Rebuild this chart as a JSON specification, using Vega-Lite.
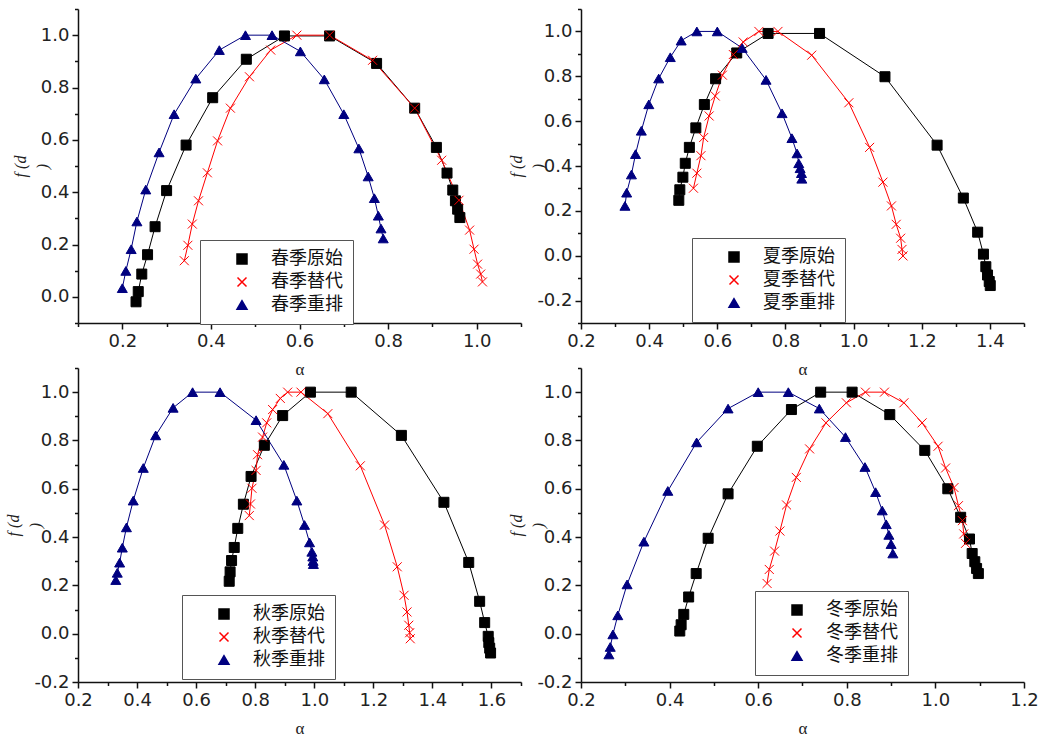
{
  "$schema": "https://vega.github.io/schema/vega-lite/v6.json",
  "background": "white",
  "padding": {"left": 5, "top": 8, "right": 5, "bottom": 5},
  "config": {
    "view": {"stroke": null},
    "axis": {
      "grid": false,
      "domainColor": "#111111",
      "domainWidth": 1.5,
      "tickColor": "#111111",
      "tickWidth": 1.5,
      "labelFont": "DejaVu Sans",
      "labelColor": "#222222",
      "labelOverlap": false,
      "labelFlush": false,
      "labelPadding": 3,
      "titleColor": "#222222"
    },
    "legend": {
      "labelFont": "Noto Sans CJK SC",
      "labelFontSize": 18,
      "labelColor": "#111111",
      "strokeColor": "#555555",
      "fillColor": "white",
      "padding": 10,
      "rowPadding": 5,
      "symbolSize": 100,
      "symbolOffset": 23,
      "labelOffset": 20
    }
  },
  "resolve": {"scale": {"color": "independent", "stroke": "independent", "shape": "independent"}, "legend": {"color": "independent", "stroke": "independent", "shape": "independent"}},
  "datasets": {
    "spring": [
      {"series": "春季原始", "alpha": 0.231, "f": -0.019},
      {"series": "春季原始", "alpha": 0.236, "f": 0.020},
      {"series": "春季原始", "alpha": 0.244, "f": 0.087},
      {"series": "春季原始", "alpha": 0.257, "f": 0.161},
      {"series": "春季原始", "alpha": 0.274, "f": 0.268},
      {"series": "春季原始", "alpha": 0.300, "f": 0.406},
      {"series": "春季原始", "alpha": 0.344, "f": 0.580},
      {"series": "春季原始", "alpha": 0.404, "f": 0.761},
      {"series": "春季原始", "alpha": 0.480, "f": 0.908},
      {"series": "春季原始", "alpha": 0.566, "f": 0.997},
      {"series": "春季原始", "alpha": 0.668, "f": 0.997},
      {"series": "春季原始", "alpha": 0.774, "f": 0.892},
      {"series": "春季原始", "alpha": 0.860, "f": 0.721},
      {"series": "春季原始", "alpha": 0.909, "f": 0.571},
      {"series": "春季原始", "alpha": 0.933, "f": 0.473},
      {"series": "春季原始", "alpha": 0.946, "f": 0.408},
      {"series": "春季原始", "alpha": 0.952, "f": 0.367},
      {"series": "春季原始", "alpha": 0.957, "f": 0.335},
      {"series": "春季原始", "alpha": 0.962, "f": 0.303},
      {"series": "春季替代", "alpha": 0.340, "f": 0.138},
      {"series": "春季替代", "alpha": 0.348, "f": 0.197},
      {"series": "春季替代", "alpha": 0.358, "f": 0.278},
      {"series": "春季替代", "alpha": 0.372, "f": 0.367},
      {"series": "春季替代", "alpha": 0.392, "f": 0.474},
      {"series": "春季替代", "alpha": 0.415, "f": 0.596},
      {"series": "春季替代", "alpha": 0.444, "f": 0.721},
      {"series": "春季替代", "alpha": 0.487, "f": 0.841},
      {"series": "春季替代", "alpha": 0.535, "f": 0.943},
      {"series": "春季替代", "alpha": 0.594, "f": 1.000},
      {"series": "春季替代", "alpha": 0.668, "f": 1.000},
      {"series": "春季替代", "alpha": 0.765, "f": 0.904},
      {"series": "春季替代", "alpha": 0.860, "f": 0.721},
      {"series": "春季替代", "alpha": 0.921, "f": 0.522},
      {"series": "春季替代", "alpha": 0.960, "f": 0.369},
      {"series": "春季替代", "alpha": 0.984, "f": 0.255},
      {"series": "春季替代", "alpha": 0.994, "f": 0.182},
      {"series": "春季替代", "alpha": 1.002, "f": 0.125},
      {"series": "春季替代", "alpha": 1.009, "f": 0.087},
      {"series": "春季替代", "alpha": 1.013, "f": 0.057},
      {"series": "春季重排", "alpha": 0.200, "f": 0.033},
      {"series": "春季重排", "alpha": 0.208, "f": 0.099},
      {"series": "春季重排", "alpha": 0.220, "f": 0.182},
      {"series": "春季重排", "alpha": 0.233, "f": 0.288},
      {"series": "春季重排", "alpha": 0.253, "f": 0.410},
      {"series": "春季重排", "alpha": 0.283, "f": 0.552},
      {"series": "春季重排", "alpha": 0.317, "f": 0.698},
      {"series": "春季重排", "alpha": 0.366, "f": 0.834},
      {"series": "春季重排", "alpha": 0.419, "f": 0.943},
      {"series": "春季重排", "alpha": 0.478, "f": 1.000},
      {"series": "春季重排", "alpha": 0.538, "f": 1.000},
      {"series": "春季重排", "alpha": 0.602, "f": 0.938},
      {"series": "春季重排", "alpha": 0.656, "f": 0.831},
      {"series": "春季重排", "alpha": 0.700, "f": 0.698},
      {"series": "春季重排", "alpha": 0.734, "f": 0.567},
      {"series": "春季重排", "alpha": 0.755, "f": 0.460},
      {"series": "春季重排", "alpha": 0.769, "f": 0.377},
      {"series": "春季重排", "alpha": 0.778, "f": 0.310},
      {"series": "春季重排", "alpha": 0.784, "f": 0.261},
      {"series": "春季重排", "alpha": 0.789, "f": 0.223}
    ],
    "summer": [
      {"series": "夏季原始", "alpha": 0.487, "f": 0.247},
      {"series": "夏季原始", "alpha": 0.490, "f": 0.294},
      {"series": "夏季原始", "alpha": 0.499, "f": 0.350},
      {"series": "夏季原始", "alpha": 0.506, "f": 0.412},
      {"series": "夏季原始", "alpha": 0.518, "f": 0.483},
      {"series": "夏季原始", "alpha": 0.537, "f": 0.570},
      {"series": "夏季原始", "alpha": 0.562, "f": 0.674},
      {"series": "夏季原始", "alpha": 0.595, "f": 0.789},
      {"series": "夏季原始", "alpha": 0.657, "f": 0.904},
      {"series": "夏季原始", "alpha": 0.749, "f": 0.991},
      {"series": "夏季原始", "alpha": 0.900, "f": 0.991},
      {"series": "夏季原始", "alpha": 1.092, "f": 0.798},
      {"series": "夏季原始", "alpha": 1.245, "f": 0.493},
      {"series": "夏季原始", "alpha": 1.322, "f": 0.257},
      {"series": "夏季原始", "alpha": 1.364, "f": 0.105},
      {"series": "夏季原始", "alpha": 1.381, "f": 0.007},
      {"series": "夏季原始", "alpha": 1.388, "f": -0.049},
      {"series": "夏季原始", "alpha": 1.393, "f": -0.086},
      {"series": "夏季原始", "alpha": 1.398, "f": -0.115},
      {"series": "夏季原始", "alpha": 1.401, "f": -0.133},
      {"series": "夏季替代", "alpha": 0.530, "f": 0.301},
      {"series": "夏季替代", "alpha": 0.540, "f": 0.368},
      {"series": "夏季替代", "alpha": 0.552, "f": 0.446},
      {"series": "夏季替代", "alpha": 0.560, "f": 0.527},
      {"series": "夏季替代", "alpha": 0.576, "f": 0.623},
      {"series": "夏季替代", "alpha": 0.594, "f": 0.712},
      {"series": "夏季替代", "alpha": 0.615, "f": 0.805},
      {"series": "夏季替代", "alpha": 0.647, "f": 0.897},
      {"series": "夏季替代", "alpha": 0.676, "f": 0.953},
      {"series": "夏季替代", "alpha": 0.722, "f": 1.000},
      {"series": "夏季替代", "alpha": 0.778, "f": 1.000},
      {"series": "夏季替代", "alpha": 0.877, "f": 0.894},
      {"series": "夏季替代", "alpha": 0.986, "f": 0.682},
      {"series": "夏季替代", "alpha": 1.047, "f": 0.483},
      {"series": "夏季替代", "alpha": 1.086, "f": 0.328},
      {"series": "夏季替代", "alpha": 1.111, "f": 0.222},
      {"series": "夏季替代", "alpha": 1.125, "f": 0.140},
      {"series": "夏季替代", "alpha": 1.138, "f": 0.078},
      {"series": "夏季替代", "alpha": 1.142, "f": 0.028},
      {"series": "夏季替代", "alpha": 1.145, "f": -0.001},
      {"series": "夏季重排", "alpha": 0.329, "f": 0.222},
      {"series": "夏季重排", "alpha": 0.334, "f": 0.281},
      {"series": "夏季重排", "alpha": 0.348, "f": 0.362},
      {"series": "夏季重排", "alpha": 0.360, "f": 0.453},
      {"series": "夏季重排", "alpha": 0.377, "f": 0.557},
      {"series": "夏季重排", "alpha": 0.399, "f": 0.675},
      {"series": "夏季重排", "alpha": 0.428, "f": 0.790},
      {"series": "夏季重排", "alpha": 0.462, "f": 0.885},
      {"series": "夏季重排", "alpha": 0.494, "f": 0.959},
      {"series": "夏季重排", "alpha": 0.540, "f": 1.000},
      {"series": "夏季重排", "alpha": 0.600, "f": 1.000},
      {"series": "夏季重排", "alpha": 0.673, "f": 0.926},
      {"series": "夏季重排", "alpha": 0.743, "f": 0.784},
      {"series": "夏季重排", "alpha": 0.790, "f": 0.635},
      {"series": "夏季重排", "alpha": 0.819, "f": 0.524},
      {"series": "夏季重排", "alpha": 0.834, "f": 0.456},
      {"series": "夏季重排", "alpha": 0.839, "f": 0.412},
      {"series": "夏季重排", "alpha": 0.843, "f": 0.390},
      {"series": "夏季重排", "alpha": 0.847, "f": 0.368},
      {"series": "夏季重排", "alpha": 0.848, "f": 0.343}
    ],
    "autumn": [
      {"series": "秋季原始", "alpha": 0.712, "f": 0.217},
      {"series": "秋季原始", "alpha": 0.715, "f": 0.256},
      {"series": "秋季原始", "alpha": 0.720, "f": 0.303},
      {"series": "秋季原始", "alpha": 0.729, "f": 0.357},
      {"series": "秋季原始", "alpha": 0.741, "f": 0.436},
      {"series": "秋季原始", "alpha": 0.760, "f": 0.536},
      {"series": "秋季原始", "alpha": 0.786, "f": 0.651},
      {"series": "秋季原始", "alpha": 0.831, "f": 0.780},
      {"series": "秋季原始", "alpha": 0.893, "f": 0.903},
      {"series": "秋季原始", "alpha": 0.987, "f": 1.000},
      {"series": "秋季原始", "alpha": 1.125, "f": 1.000},
      {"series": "秋季原始", "alpha": 1.295, "f": 0.821},
      {"series": "秋季原始", "alpha": 1.439, "f": 0.544},
      {"series": "秋季原始", "alpha": 1.523, "f": 0.295},
      {"series": "秋季原始", "alpha": 1.560, "f": 0.134},
      {"series": "秋季原始", "alpha": 1.577, "f": 0.046},
      {"series": "秋季原始", "alpha": 1.589, "f": -0.011},
      {"series": "秋季原始", "alpha": 1.591, "f": -0.037},
      {"series": "秋季原始", "alpha": 1.594, "f": -0.060},
      {"series": "秋季原始", "alpha": 1.597, "f": -0.080},
      {"series": "秋季替代", "alpha": 0.780, "f": 0.489},
      {"series": "秋季替代", "alpha": 0.784, "f": 0.537},
      {"series": "秋季替代", "alpha": 0.789, "f": 0.602},
      {"series": "秋季替代", "alpha": 0.803, "f": 0.676},
      {"series": "秋季替代", "alpha": 0.808, "f": 0.741},
      {"series": "秋季替代", "alpha": 0.825, "f": 0.814},
      {"series": "秋季替代", "alpha": 0.839, "f": 0.873},
      {"series": "秋季替代", "alpha": 0.859, "f": 0.928},
      {"series": "秋季替代", "alpha": 0.885, "f": 0.974},
      {"series": "秋季替代", "alpha": 0.910, "f": 1.000},
      {"series": "秋季替代", "alpha": 0.955, "f": 1.000},
      {"series": "秋季替代", "alpha": 1.046, "f": 0.911},
      {"series": "秋季替代", "alpha": 1.156, "f": 0.695},
      {"series": "秋季替代", "alpha": 1.238, "f": 0.450},
      {"series": "秋季替代", "alpha": 1.281, "f": 0.277},
      {"series": "秋季替代", "alpha": 1.304, "f": 0.159},
      {"series": "秋季替代", "alpha": 1.314, "f": 0.090},
      {"series": "秋季替代", "alpha": 1.320, "f": 0.035},
      {"series": "秋季替代", "alpha": 1.323, "f": 0.004},
      {"series": "秋季替代", "alpha": 1.325, "f": -0.021},
      {"series": "秋季重排", "alpha": 0.328, "f": 0.222},
      {"series": "秋季重排", "alpha": 0.333, "f": 0.252},
      {"series": "秋季重排", "alpha": 0.341, "f": 0.294},
      {"series": "秋季重排", "alpha": 0.350, "f": 0.356},
      {"series": "秋季重排", "alpha": 0.364, "f": 0.440},
      {"series": "秋季重排", "alpha": 0.387, "f": 0.551},
      {"series": "秋季重排", "alpha": 0.421, "f": 0.686},
      {"series": "秋季重排", "alpha": 0.463, "f": 0.821},
      {"series": "秋季重排", "alpha": 0.522, "f": 0.935},
      {"series": "秋季重排", "alpha": 0.588, "f": 1.000},
      {"series": "秋季重排", "alpha": 0.681, "f": 1.000},
      {"series": "秋季重排", "alpha": 0.803, "f": 0.884},
      {"series": "秋季重排", "alpha": 0.897, "f": 0.699},
      {"series": "秋季重排", "alpha": 0.941, "f": 0.551},
      {"series": "秋季重排", "alpha": 0.967, "f": 0.450},
      {"series": "秋季重排", "alpha": 0.984, "f": 0.378},
      {"series": "秋季重排", "alpha": 0.992, "f": 0.339},
      {"series": "秋季重排", "alpha": 0.995, "f": 0.319},
      {"series": "秋季重排", "alpha": 0.996, "f": 0.301},
      {"series": "秋季重排", "alpha": 0.997, "f": 0.288}
    ],
    "winter": [
      {"series": "冬季原始", "alpha": 0.423, "f": 0.011},
      {"series": "冬季原始", "alpha": 0.426, "f": 0.037},
      {"series": "冬季原始", "alpha": 0.432, "f": 0.080},
      {"series": "冬季原始", "alpha": 0.443, "f": 0.152},
      {"series": "冬季原始", "alpha": 0.460, "f": 0.249},
      {"series": "冬季原始", "alpha": 0.487, "f": 0.395},
      {"series": "冬季原始", "alpha": 0.532, "f": 0.579},
      {"series": "冬季原始", "alpha": 0.598, "f": 0.776},
      {"series": "冬季原始", "alpha": 0.675, "f": 0.928},
      {"series": "冬季原始", "alpha": 0.741, "f": 1.000},
      {"series": "冬季原始", "alpha": 0.812, "f": 1.000},
      {"series": "冬季原始", "alpha": 0.897, "f": 0.907},
      {"series": "冬季原始", "alpha": 0.976, "f": 0.759},
      {"series": "冬季原始", "alpha": 1.028, "f": 0.600},
      {"series": "冬季原始", "alpha": 1.057, "f": 0.482},
      {"series": "冬季原始", "alpha": 1.077, "f": 0.392},
      {"series": "冬季原始", "alpha": 1.083, "f": 0.332},
      {"series": "冬季原始", "alpha": 1.089, "f": 0.298},
      {"series": "冬季原始", "alpha": 1.093, "f": 0.270},
      {"series": "冬季原始", "alpha": 1.097, "f": 0.249},
      {"series": "冬季替代", "alpha": 0.620, "f": 0.208},
      {"series": "冬季替代", "alpha": 0.625, "f": 0.266},
      {"series": "冬季替代", "alpha": 0.637, "f": 0.342},
      {"series": "冬季替代", "alpha": 0.649, "f": 0.425},
      {"series": "冬季替代", "alpha": 0.664, "f": 0.533},
      {"series": "冬季替代", "alpha": 0.686, "f": 0.647},
      {"series": "冬季替代", "alpha": 0.716, "f": 0.765},
      {"series": "冬季替代", "alpha": 0.753, "f": 0.873},
      {"series": "冬季替代", "alpha": 0.799, "f": 0.956},
      {"series": "冬季替代", "alpha": 0.842, "f": 1.000},
      {"series": "冬季替代", "alpha": 0.885, "f": 1.000},
      {"series": "冬季替代", "alpha": 0.929, "f": 0.956},
      {"series": "冬季替代", "alpha": 0.970, "f": 0.873},
      {"series": "冬季替代", "alpha": 1.006, "f": 0.776},
      {"series": "冬季替代", "alpha": 1.023, "f": 0.686},
      {"series": "冬季替代", "alpha": 1.042, "f": 0.605},
      {"series": "冬季替代", "alpha": 1.052, "f": 0.530},
      {"series": "冬季替代", "alpha": 1.061, "f": 0.468},
      {"series": "冬季替代", "alpha": 1.064, "f": 0.413},
      {"series": "冬季替代", "alpha": 1.068, "f": 0.374},
      {"series": "冬季重排", "alpha": 0.263, "f": -0.086},
      {"series": "冬季重排", "alpha": 0.266, "f": -0.055},
      {"series": "冬季重排", "alpha": 0.272, "f": -0.003},
      {"series": "冬季重排", "alpha": 0.283, "f": 0.076},
      {"series": "冬季重排", "alpha": 0.304, "f": 0.204},
      {"series": "冬季重排", "alpha": 0.342, "f": 0.381},
      {"series": "冬季重排", "alpha": 0.396, "f": 0.591},
      {"series": "冬季重排", "alpha": 0.461, "f": 0.792},
      {"series": "冬季重排", "alpha": 0.532, "f": 0.932},
      {"series": "冬季重排", "alpha": 0.600, "f": 1.000},
      {"series": "冬季重排", "alpha": 0.668, "f": 1.000},
      {"series": "冬季重排", "alpha": 0.738, "f": 0.932},
      {"series": "冬季重排", "alpha": 0.797, "f": 0.814},
      {"series": "冬季重排", "alpha": 0.841, "f": 0.690},
      {"series": "冬季重排", "alpha": 0.865, "f": 0.586},
      {"series": "冬季重排", "alpha": 0.880, "f": 0.510},
      {"series": "冬季重排", "alpha": 0.889, "f": 0.453},
      {"series": "冬季重排", "alpha": 0.895, "f": 0.409},
      {"series": "冬季重排", "alpha": 0.900, "f": 0.371},
      {"series": "冬季重排", "alpha": 0.904, "f": 0.332}
    ]
  },
  "columns": 2,
  "bounds": "flush",
  "spacing": {"row": 45, "column": 60},
  "concat": [
    {
      "width": 443, "height": 314,
      "data": {"name": "spring"},
      "encoding": {
        "x": {"field": "alpha", "type": "quantitative",
          "scale": {"domain": [0.1, 1.1], "nice": false, "zero": false},
          "axis": {"title": "α", "titleFont": "Liberation Serif", "titleFontSize": 17, "titleFontWeight": "normal", "titlePadding": 11,
            "values": [0.1,0.2,0.3,0.4,0.5,0.6,0.7,0.8,0.9,1.0,1.1],
            "labelExpr": "abs(round(datum.value*10)) % 2 == 0 ? (datum.value < 0 ? '-' : '') + format(abs(datum.value), '.1f') : ''",
            "labelFontSize": {"condition": {"test": "abs(round(datum.value*10)) % 2 == 0", "value": 18}, "value": 0},
            "tickSize": {"condition": {"test": "abs(round(datum.value*10)) % 2 == 0", "value": 6}, "value": 3.5}}},
        "y": {"field": "f", "type": "quantitative",
          "scale": {"domain": [-0.1, 1.1], "nice": false, "zero": false},
          "axis": {"title": ["f (d", ")"], "titleFont": "Liberation Serif", "titleFontStyle": "italic", "titleFontSize": 16, "titleFontWeight": "normal", "titleLineHeight": 22, "titlePadding": -10,
            "values": [-0.1,0,0.1,0.2,0.3,0.4,0.5,0.6,0.7,0.8,0.9,1.0,1.1],
            "labelExpr": "abs(round(datum.value*10)) % 2 == 0 ? (datum.value < 0 ? '-' : '') + format(abs(datum.value), '.1f') : ''",
            "labelFontSize": {"condition": {"test": "abs(round(datum.value*10)) % 2 == 0", "value": 18}, "value": 0},
            "tickSize": {"condition": {"test": "abs(round(datum.value*10)) % 2 == 0", "value": 6}, "value": 3.5}}}
      },
      "layer": [
        {"mark": {"type": "line", "strokeWidth": 1},
          "encoding": {"color": {"field": "series", "type": "nominal", "scale": {"domain": ["春季原始", "春季替代", "春季重排"], "range": ["#000000", "#ff0000", "#000080"]}}}},
        {"mark": {"type": "point", "filled": true, "size": 100, "strokeWidth": 1, "opacity": 1},
          "encoding": {
            "color": {"field": "series", "type": "nominal"},
            "stroke": {"field": "series", "type": "nominal", "scale": {"domain": ["春季原始", "春季替代", "春季重排"], "range": ["#000000", "#ff0000", "#000080"]}},
            "shape": {"field": "series", "type": "nominal",
              "scale": {"domain": ["春季原始", "春季替代", "春季重排"], "range": ["square", "M-0.9,-0.9L0.9,0.9M-0.9,0.9L0.9,-0.9", "triangle-up"]},
              "legend": {"orient": "none", "legendX": 122, "legendY": 231, "title": null}}
          }}
      ]
    },
    {
      "width": 443, "height": 314,
      "data": {"name": "summer"},
      "encoding": {
        "x": {"field": "alpha", "type": "quantitative",
          "scale": {"domain": [0.2, 1.5], "nice": false, "zero": false},
          "axis": {"title": "α", "titleFont": "Liberation Serif", "titleFontSize": 17, "titleFontWeight": "normal", "titlePadding": 11,
            "values": [0.2,0.3,0.4,0.5,0.6,0.7,0.8,0.9,1.0,1.1,1.2,1.3,1.4,1.5],
            "labelExpr": "abs(round(datum.value*10)) % 2 == 0 ? (datum.value < 0 ? '-' : '') + format(abs(datum.value), '.1f') : ''",
            "labelFontSize": {"condition": {"test": "abs(round(datum.value*10)) % 2 == 0", "value": 18}, "value": 0},
            "tickSize": {"condition": {"test": "abs(round(datum.value*10)) % 2 == 0", "value": 6}, "value": 3.5}}},
        "y": {"field": "f", "type": "quantitative",
          "scale": {"domain": [-0.3, 1.1], "nice": false, "zero": false},
          "axis": {"title": ["f (d", ")"], "titleFont": "Liberation Serif", "titleFontStyle": "italic", "titleFontSize": 16, "titleFontWeight": "normal", "titleLineHeight": 22, "titlePadding": -10,
            "values": [-0.3,-0.2,-0.1,0,0.1,0.2,0.3,0.4,0.5,0.6,0.7,0.8,0.9,1.0,1.1],
            "labelExpr": "abs(round(datum.value*10)) % 2 == 0 ? (datum.value < 0 ? '-' : '') + format(abs(datum.value), '.1f') : ''",
            "labelFontSize": {"condition": {"test": "abs(round(datum.value*10)) % 2 == 0", "value": 18}, "value": 0},
            "tickSize": {"condition": {"test": "abs(round(datum.value*10)) % 2 == 0", "value": 6}, "value": 3.5}}}
      },
      "layer": [
        {"mark": {"type": "line", "strokeWidth": 1},
          "encoding": {"color": {"field": "series", "type": "nominal", "scale": {"domain": ["夏季原始", "夏季替代", "夏季重排"], "range": ["#000000", "#ff0000", "#000080"]}}}},
        {"mark": {"type": "point", "filled": true, "size": 100, "strokeWidth": 1, "opacity": 1},
          "encoding": {
            "color": {"field": "series", "type": "nominal"},
            "stroke": {"field": "series", "type": "nominal", "scale": {"domain": ["夏季原始", "夏季替代", "夏季重排"], "range": ["#000000", "#ff0000", "#000080"]}},
            "shape": {"field": "series", "type": "nominal",
              "scale": {"domain": ["夏季原始", "夏季替代", "夏季重排"], "range": ["square", "M-0.9,-0.9L0.9,0.9M-0.9,0.9L0.9,-0.9", "triangle-up"]},
              "legend": {"orient": "none", "legendX": 111, "legendY": 229, "title": null}}
          }}
      ]
    },
    {
      "width": 443, "height": 314,
      "data": {"name": "autumn"},
      "encoding": {
        "x": {"field": "alpha", "type": "quantitative",
          "scale": {"domain": [0.2, 1.7], "nice": false, "zero": false},
          "axis": {"title": "α", "titleFont": "Liberation Serif", "titleFontSize": 17, "titleFontWeight": "normal", "titlePadding": 11,
            "values": [0.2,0.3,0.4,0.5,0.6,0.7,0.8,0.9,1.0,1.1,1.2,1.3,1.4,1.5,1.6,1.7],
            "labelExpr": "abs(round(datum.value*10)) % 2 == 0 ? (datum.value < 0 ? '-' : '') + format(abs(datum.value), '.1f') : ''",
            "labelFontSize": {"condition": {"test": "abs(round(datum.value*10)) % 2 == 0", "value": 18}, "value": 0},
            "tickSize": {"condition": {"test": "abs(round(datum.value*10)) % 2 == 0", "value": 6}, "value": 3.5}}},
        "y": {"field": "f", "type": "quantitative",
          "scale": {"domain": [-0.2, 1.1], "nice": false, "zero": false},
          "axis": {"title": ["f (d", ")"], "titleFont": "Liberation Serif", "titleFontStyle": "italic", "titleFontSize": 16, "titleFontWeight": "normal", "titleLineHeight": 22, "titlePadding": -10,
            "values": [-0.2,-0.1,0,0.1,0.2,0.3,0.4,0.5,0.6,0.7,0.8,0.9,1.0,1.1],
            "labelExpr": "abs(round(datum.value*10)) % 2 == 0 ? (datum.value < 0 ? '-' : '') + format(abs(datum.value), '.1f') : ''",
            "labelFontSize": {"condition": {"test": "abs(round(datum.value*10)) % 2 == 0", "value": 18}, "value": 0},
            "tickSize": {"condition": {"test": "abs(round(datum.value*10)) % 2 == 0", "value": 6}, "value": 3.5}}}
      },
      "layer": [
        {"mark": {"type": "line", "strokeWidth": 1},
          "encoding": {"color": {"field": "series", "type": "nominal", "scale": {"domain": ["秋季原始", "秋季替代", "秋季重排"], "range": ["#000000", "#ff0000", "#000080"]}}}},
        {"mark": {"type": "point", "filled": true, "size": 100, "strokeWidth": 1, "opacity": 1},
          "encoding": {
            "color": {"field": "series", "type": "nominal"},
            "stroke": {"field": "series", "type": "nominal", "scale": {"domain": ["秋季原始", "秋季替代", "秋季重排"], "range": ["#000000", "#ff0000", "#000080"]}},
            "shape": {"field": "series", "type": "nominal",
              "scale": {"domain": ["秋季原始", "秋季替代", "秋季重排"], "range": ["square", "M-0.9,-0.9L0.9,0.9M-0.9,0.9L0.9,-0.9", "triangle-up"]},
              "legend": {"orient": "none", "legendX": 104, "legendY": 227, "title": null}}
          }}
      ]
    },
    {
      "width": 443, "height": 314,
      "data": {"name": "winter"},
      "encoding": {
        "x": {"field": "alpha", "type": "quantitative",
          "scale": {"domain": [0.2, 1.2], "nice": false, "zero": false},
          "axis": {"title": "α", "titleFont": "Liberation Serif", "titleFontSize": 17, "titleFontWeight": "normal", "titlePadding": 11,
            "values": [0.2,0.3,0.4,0.5,0.6,0.7,0.8,0.9,1.0,1.1,1.2],
            "labelExpr": "abs(round(datum.value*10)) % 2 == 0 ? (datum.value < 0 ? '-' : '') + format(abs(datum.value), '.1f') : ''",
            "labelFontSize": {"condition": {"test": "abs(round(datum.value*10)) % 2 == 0", "value": 18}, "value": 0},
            "tickSize": {"condition": {"test": "abs(round(datum.value*10)) % 2 == 0", "value": 6}, "value": 3.5}}},
        "y": {"field": "f", "type": "quantitative",
          "scale": {"domain": [-0.2, 1.1], "nice": false, "zero": false},
          "axis": {"title": ["f (d", ")"], "titleFont": "Liberation Serif", "titleFontStyle": "italic", "titleFontSize": 16, "titleFontWeight": "normal", "titleLineHeight": 22, "titlePadding": -10,
            "values": [-0.2,-0.1,0,0.1,0.2,0.3,0.4,0.5,0.6,0.7,0.8,0.9,1.0,1.1],
            "labelExpr": "abs(round(datum.value*10)) % 2 == 0 ? (datum.value < 0 ? '-' : '') + format(abs(datum.value), '.1f') : ''",
            "labelFontSize": {"condition": {"test": "abs(round(datum.value*10)) % 2 == 0", "value": 18}, "value": 0},
            "tickSize": {"condition": {"test": "abs(round(datum.value*10)) % 2 == 0", "value": 6}, "value": 3.5}}}
      },
      "layer": [
        {"mark": {"type": "line", "strokeWidth": 1},
          "encoding": {"color": {"field": "series", "type": "nominal", "scale": {"domain": ["冬季原始", "冬季替代", "冬季重排"], "range": ["#000000", "#ff0000", "#000080"]}}}},
        {"mark": {"type": "point", "filled": true, "size": 100, "strokeWidth": 1, "opacity": 1},
          "encoding": {
            "color": {"field": "series", "type": "nominal"},
            "stroke": {"field": "series", "type": "nominal", "scale": {"domain": ["冬季原始", "冬季替代", "冬季重排"], "range": ["#000000", "#ff0000", "#000080"]}},
            "shape": {"field": "series", "type": "nominal",
              "scale": {"domain": ["冬季原始", "冬季替代", "冬季重排"], "range": ["square", "M-0.9,-0.9L0.9,0.9M-0.9,0.9L0.9,-0.9", "triangle-up"]},
              "legend": {"orient": "none", "legendX": 174, "legendY": 223, "title": null}}
          }}
      ]
    }
  ]
}
